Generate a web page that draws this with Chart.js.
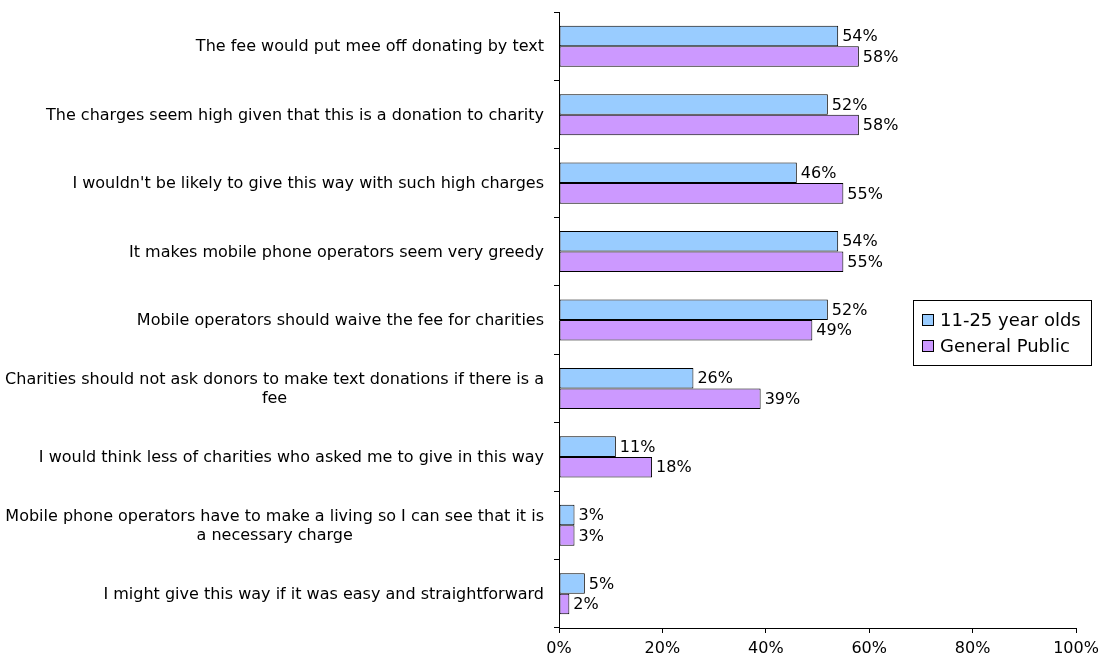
<!DOCTYPE html>
<html>
<head>
<meta charset="utf-8">
<title>Text donation charges</title>
<script src="https://cdn.jsdelivr.net/npm/chart.js@4/dist/chart.umd.min.js"></script>
<style>
  html, body { margin: 0; padding: 0; background: #fff; }
  #wrap { width: 1100px; height: 666px; position: relative; }
</style>
</head>
<body>
<div id="wrap"><canvas id="chart"></canvas></div>
<script>
const FONT = '"DejaVu Sans", sans-serif';

// statements, top to bottom
const categories = [
  ["The fee would put mee off donating by text"],
  ["The charges seem high given that this is a donation to charity"],
  ["I wouldn't be likely to give this way with such high charges"],
  ["It makes mobile phone operators seem very greedy"],
  ["Mobile operators should waive the fee for charities"],
  ["Charities should not ask donors to make text donations if there is a", "fee"],
  ["I would think less of charities who asked me to give in this way"],
  ["Mobile phone operators have to make a living so I can see that it is", "a necessary charge"],
  ["I might give this way if it was easy and straightforward"]
];

const seriesNames = ["11-25 year olds", "General Public"];
const youthValues = [54, 52, 46, 54, 52, 26, 11, 3, 5];
const publicValues = [58, 58, 55, 55, 49, 39, 18, 3, 2];
const xTickValues = [0, 20, 40, 60, 80, 100];

const colors = ["#99CCFF", "#CC99FF"];

// category labels: right aligned block, lines centred inside the block
const yLabelsPlugin = {
  id: "yLabels",
  afterDraw(chart) {
    const ctx = chart.ctx;
    const y = chart.scales.y;
    ctx.save();
    ctx.font = "16px " + FONT;
    ctx.fillStyle = "#000";
    ctx.textAlign = "center";
    ctx.textBaseline = "middle";
    const right = y.right - 15;
    const lh = 19;
    categories.forEach((lines, i) => {
      const py = y.getPixelForTick(i) + 1;
      const w = Math.max(...lines.map(l => ctx.measureText(l).width));
      const cx = right - w / 2;
      lines.forEach((l, j) => {
        ctx.fillText(l, cx, py + (j - (lines.length - 1) / 2) * lh);
      });
    });
    ctx.restore();
  }
};

// value labels after each bar
const valueLabelsPlugin = {
  id: "valueLabels",
  afterDatasetsDraw(chart) {
    const ctx = chart.ctx;
    ctx.save();
    ctx.font = "16px " + FONT;
    ctx.fillStyle = "#000";
    ctx.textAlign = "left";
    ctx.textBaseline = "middle";
    chart.data.datasets.forEach((ds, di) => {
      chart.getDatasetMeta(di).data.forEach((bar, i) => {
        ctx.fillText(ds.data[i] + "%", bar.x + 4, bar.y + 1);
      });
    });
    ctx.restore();
  }
};

// boxed legend sitting over the right side of the plot
const boxLegendPlugin = {
  id: "boxLegend",
  afterDraw(chart) {
    const ctx = chart.ctx;
    const x0 = 913, y0 = 300, w = 178, h = 65;
    ctx.save();
    ctx.fillStyle = "#fff";
    ctx.fillRect(x0, y0, w, h);
    ctx.strokeStyle = "#000";
    ctx.lineWidth = 1;
    ctx.strokeRect(x0 + 0.5, y0 + 0.5, w, h);
    ctx.font = "18px " + FONT;
    ctx.textBaseline = "middle";
    chart.data.datasets.forEach((ds, i) => {
      const cy = y0 + 20 + i * 26;
      ctx.fillStyle = ds.backgroundColor;
      ctx.fillRect(x0 + 9, cy - 6, 12, 12);
      ctx.strokeRect(x0 + 9.5, cy - 5.5, 11, 11);
      ctx.fillStyle = "#000";
      ctx.fillText(ds.label, x0 + 27, cy + 1);
    });
    ctx.restore();
  }
};

new Chart(document.getElementById("chart"), {
  type: "bar",
  data: {
    labels: categories.map(c => c.join(" ")),
    datasets: [
      { label: seriesNames[0], data: youthValues, backgroundColor: colors[0] },
      { label: seriesNames[1], data: publicValues, backgroundColor: colors[1] }
    ].map(d => Object.assign(d, {
      borderColor: "#000",
      borderWidth: 1,
      borderSkipped: false,
      categoryPercentage: 0.6,
      barPercentage: 1
    }))
  },
  options: {
    indexAxis: "y",
    responsive: true,
    maintainAspectRatio: false,
    animation: false,
    layout: { padding: { top: 12, right: 0, left: 0, bottom: 0 } },
    plugins: {
      legend: { display: false },
      tooltip: { enabled: false }
    },
    scales: {
      x: {
        min: 0,
        max: 100,
        afterBuildTicks(scale) {
          scale.ticks = xTickValues.map(v => ({ value: v }));
        },
        afterFit(scale) {
          scale.height = 38;
          scale.paddingRight = 24;
        },
        ticks: {
          callback: v => v + "%",
          color: "#000",
          font: { family: FONT, size: 16 },
          padding: 6,
          maxRotation: 0
        },
        grid: { drawOnChartArea: false, drawTicks: true, tickLength: 5, color: "#000" },
        border: { display: true, color: "#000" }
      },
      y: {
        afterFit(scale) { scale.width = 559; },
        ticks: { display: false },
        grid: { offset: true, drawOnChartArea: false, drawTicks: true, tickLength: 5, color: "#000" },
        border: { display: true, color: "#000" }
      }
    }
  },
  plugins: [yLabelsPlugin, valueLabelsPlugin, boxLegendPlugin]
});
</script>
</body>
</html>
